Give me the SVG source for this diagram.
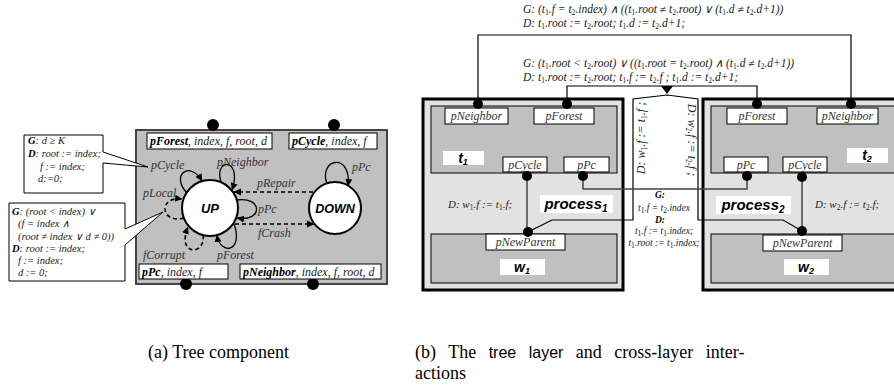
<svg xmlns="http://www.w3.org/2000/svg" width="894" height="387" viewBox="0 0 894 387">
<defs>
<style>
.ti{font-family:"Liberation Serif","Times New Roman",serif;font-style:italic;fill:#222}
.lbl{font-family:"Liberation Serif","Times New Roman",serif;font-style:italic;font-size:12px;fill:#333}
.bl{font-weight:bold;fill:#000}
.sb{font-size:7.5px;font-style:normal}
.box{fill:#fff;stroke:#000;stroke-width:1}
.wbox{fill:#fff;stroke:none}
.dot{fill:#000}
.ar{font-family:"Liberation Sans",Arial,sans-serif;font-weight:bold;font-style:italic;fill:#000}
.loop{fill:none;stroke:#000;stroke-width:1.3}
.dash{fill:none;stroke:#000;stroke-width:1.6;stroke-dasharray:4,3}
.gl{fill:none;stroke:#444;stroke-width:1.5}
.bk{fill:none;stroke:#000;stroke-width:1.2}
.proc{fill:#e2e2e2;stroke:#000;stroke-width:3}
.inner{fill:#c0c0c0;stroke:#000;stroke-width:1}
.cap{font-family:"Liberation Serif","Times New Roman",serif;font-size:18px;fill:#000}
</style>
<marker id="ah" markerWidth="8" markerHeight="8" refX="7" refY="4" orient="auto" markerUnits="userSpaceOnUse"><path d="M0,0.5 L7.5,4 L0,7.5 Z" fill="#000"/></marker>
</defs>

<!-- ===== Part (a) ===== -->
<g id="tree-component">
<rect x="136" y="130" width="251" height="154" fill="#c0c0c0" stroke="#444" stroke-width="2"/>
<circle class="dot" cx="213" cy="125" r="6"/>
<circle class="dot" cx="334" cy="125" r="6"/>
<circle class="dot" cx="186" cy="284" r="6"/>
<circle class="dot" cx="313" cy="284" r="6"/>
</g>
<g id="port-pForest">
<rect class="box" x="147" y="133" width="125" height="16"/>
<text class="ti" x="150" y="145" font-size="12"><tspan class="bl">pForest</tspan>, index, f, root, d</text>
</g>
<g id="port-pCycle">
<rect class="box" x="289" y="133" width="88" height="16"/>
<text class="ti" x="292" y="145" font-size="12"><tspan class="bl">pCycle</tspan>, index, f</text>
</g>
<g id="port-pPc">
<rect class="box" x="139" y="264" width="89" height="15"/>
<text class="ti" x="142" y="276" font-size="12"><tspan class="bl">pPc</tspan>, index, f</text>
</g>
<g id="port-pNeighbor">
<rect class="box" x="240" y="264" width="141" height="15"/>
<text class="ti" x="243" y="276" font-size="12"><tspan class="bl">pNeighbor</tspan>, index, f, root, d</text>
</g>
<g id="state-UP">
<circle cx="210" cy="208" r="28" fill="#fff" stroke="#000" stroke-width="2"/>
<text class="ar" x="210" y="213" font-size="13" text-anchor="middle">UP</text>
</g>
<g id="state-DOWN">
<circle cx="335" cy="208" r="26" fill="#fff" stroke="#000" stroke-width="2"/>
<text class="ar" x="335" y="213" font-size="12.5" text-anchor="middle">DOWN</text>
</g>
<g id="transitions-a">
<path class="loop" d="M187,193 C170,175 190,160 202,181" marker-end="url(#ah)"/>
<path class="loop" d="M221,182 C213,158 243,157 232,190" marker-end="url(#ah)"/>
<path class="loop" d="M237,200 C262,196 264,222 237,218" marker-end="url(#ah)"/>
<path class="loop" d="M234,224 C244,252 220,256 217,235" marker-end="url(#ah)"/>
<path class="dash" d="M203,235 C206,256 176,256 188,227" marker-end="url(#ah)"/>
<path class="dash" d="M184,218 C160,224 158,196 182,199" marker-end="url(#ah)"/>
<path class="loop" d="M327,184 C318,158 352,152 348,186" marker-end="url(#ah)"/>
<path class="dash" d="M313,192 L234,192" marker-end="url(#ah)"/>
<path class="dash" d="M235,224 L314,224" marker-end="url(#ah)"/>
</g>
<g id="labels-a">
<text class="lbl" x="151" y="169">pCycle</text>
<text class="lbl" x="217" y="166">pNeighbor</text>
<text class="lbl" x="352" y="171">pPc</text>
<text class="lbl" x="257" y="187">pRepair</text>
<text class="lbl" x="143" y="197">pLocal</text>
<text class="lbl" x="258" y="213">pPc</text>
<text class="lbl" x="258" y="237">fCrash</text>
<text class="lbl" x="143" y="259">fCorrupt</text>
<text class="lbl" x="217" y="259">pForest</text>
</g>
<g id="callout-pCycle">
<path d="M24,135 H103 V152 L148,167 L103,163 V193 H24 Z" fill="#fff" stroke="#000" stroke-width="1"/>
<text class="ti" font-size="10.5" x="28" y="144"><tspan class="bl">G</tspan>: d ≥ K</text>
<text class="ti" font-size="10.5" x="28" y="157"><tspan class="bl">D</tspan>: root := index;</text>
<text class="ti" font-size="10.5" x="40" y="170">f := index;</text>
<text class="ti" font-size="10.5" x="38" y="182">d:=0;</text>
</g>
<g id="callout-pLocal">
<path d="M9,203 H125 V229 L163,212 L125,245 V281 H9 Z" fill="#fff" stroke="#000" stroke-width="1"/>
<text class="ti" font-size="10.5" x="12" y="215"><tspan class="bl">G</tspan>: (root &lt; index) ∨</text>
<text class="ti" font-size="10.5" x="18" y="227">(f = index ∧</text>
<text class="ti" font-size="10.5" x="18" y="240">(root ≠ index ∨ d ≠ 0))</text>
<text class="ti" font-size="10.5" x="12" y="252"><tspan class="bl">D</tspan>: root := index;</text>
<text class="ti" font-size="10.5" x="18" y="264">f := index;</text>
<text class="ti" font-size="10.5" x="18" y="276">d := 0;</text>
</g>

<!-- ===== Part (b) ===== -->
<g id="process1">
<rect class="proc" x="423" y="99" width="200" height="191"/>
<rect class="inner" x="431" y="106" width="186" height="67"/>
<rect class="box" x="445" y="108" width="63" height="16"/>
<text class="lbl" x="476.5" y="120" font-size="11.5" text-anchor="middle">pNeighbor</text>
<rect class="box" x="534" y="108" width="60" height="16"/>
<text class="lbl" x="564" y="120" font-size="11.5" text-anchor="middle">pForest</text>
<rect class="wbox" x="443" y="151" width="41" height="14"/>
<text class="ar" x="463" y="163" font-size="14" text-anchor="middle">t<tspan font-size="9" dy="2">1</tspan></text>
<rect class="box" x="503" y="157" width="44" height="15"/>
<text class="lbl" x="525" y="168.5" font-size="11.5" text-anchor="middle">pCycle</text>
<rect class="box" x="564" y="157" width="45" height="15"/>
<text class="lbl" x="586.5" y="168.5" font-size="11.5" text-anchor="middle">pPc</text>
<text class="ti" x="448" y="208" font-size="11">D: w<tspan class="sb" dy="2">1</tspan><tspan dy="-2">.f := t</tspan><tspan class="sb" dy="2">1</tspan><tspan dy="-2">.f;</tspan></text>
<rect class="wbox" x="540" y="195" width="73" height="18"/>
<text class="ar" x="576" y="209" font-size="15" text-anchor="middle">process<tspan font-size="10" dy="3">1</tspan></text>
<rect class="inner" x="431" y="234" width="186" height="49"/>
<rect class="box" x="486" y="234" width="79" height="16"/>
<text class="lbl" x="525.5" y="246" font-size="11.5" text-anchor="middle">pNewParent</text>
<rect class="wbox" x="500" y="259" width="45" height="16"/>
<text class="ar" x="522" y="272" font-size="14" text-anchor="middle">w<tspan font-size="9" dy="2">1</tspan></text>
</g>
<g id="process2">
<rect class="proc" x="703" y="99" width="200" height="191"/>
<rect class="inner" x="711" y="106" width="186" height="67"/>
<rect class="box" x="727" y="108" width="60" height="16"/>
<text class="lbl" x="757" y="120" font-size="11.5" text-anchor="middle">pForest</text>
<rect class="box" x="817" y="108" width="61" height="16"/>
<text class="lbl" x="847.5" y="120" font-size="11.5" text-anchor="middle">pNeighbor</text>
<rect class="wbox" x="847" y="148" width="41" height="15"/>
<text class="ar" x="867" y="160" font-size="14" text-anchor="middle">t<tspan font-size="9" dy="2">2</tspan></text>
<rect class="box" x="724" y="157" width="44" height="15"/>
<text class="lbl" x="746" y="168.5" font-size="11.5" text-anchor="middle">pPc</text>
<rect class="box" x="783" y="157" width="44" height="15"/>
<text class="lbl" x="805" y="168.5" font-size="11.5" text-anchor="middle">pCycle</text>
<rect class="wbox" x="716" y="196" width="75" height="18"/>
<text class="ar" x="753" y="210" font-size="15" text-anchor="middle">process<tspan font-size="10" dy="3">2</tspan></text>
<text class="ti" x="815" y="208" font-size="11">D: w<tspan class="sb" dy="2">2</tspan><tspan dy="-2">.f := t</tspan><tspan class="sb" dy="2">2</tspan><tspan dy="-2">.f;</tspan></text>
<rect class="inner" x="711" y="234" width="186" height="49"/>
<rect class="box" x="763" y="235" width="79" height="16"/>
<text class="lbl" x="802.5" y="247" font-size="11.5" text-anchor="middle">pNewParent</text>
<rect class="wbox" x="784" y="259" width="45" height="16"/>
<text class="ar" x="806" y="272" font-size="14" text-anchor="middle">w<tspan font-size="9" dy="2">2</tspan></text>
</g>

<g id="connectors-b">
<path class="bk" d="M478,104 V35 H851 V104"/>
<path class="bk" d="M567,104 V86 H757 V104"/>
<polygon points="661,86 673,86 667,94" fill="#000"/>
<path class="bk" d="M528,232 L552,220 H633 V99 L667,95 L698,99 V220 H783 L802,231" stroke-width="1"/>
<path class="gl" d="M583,176 V189 H747 V176"/>
<path class="gl" d="M527,176 V232"/>
<path class="gl" d="M802,177 V231"/>
<circle class="dot" cx="478" cy="104" r="5"/>
<circle class="dot" cx="567" cy="104" r="5"/>
<circle class="dot" cx="527" cy="176" r="5"/>
<circle class="dot" cx="583" cy="176" r="5"/>
<circle class="dot" cx="528" cy="232" r="5"/>
<circle class="dot" cx="757" cy="104" r="5"/>
<circle class="dot" cx="851" cy="104" r="5"/>
<circle class="dot" cx="747" cy="176" r="5"/>
<circle class="dot" cx="802" cy="177" r="5"/>
<circle class="dot" cx="802" cy="231" r="5"/>
</g>

<g id="interaction-texts">
<text class="ti" x="523" y="13" font-size="11.5">G: (t<tspan class="sb" dy="2">1</tspan><tspan dy="-2">.f = t</tspan><tspan class="sb" dy="2">2</tspan><tspan dy="-2">.index) ∧ ((t</tspan><tspan class="sb" dy="2">1</tspan><tspan dy="-2">.root ≠ t</tspan><tspan class="sb" dy="2">2</tspan><tspan dy="-2">.root)  ∨  (t</tspan><tspan class="sb" dy="2">1</tspan><tspan dy="-2">.d ≠ t</tspan><tspan class="sb" dy="2">2</tspan><tspan dy="-2">.d+1))</tspan></text>
<text class="ti" x="523" y="27" font-size="11.5">D: t<tspan class="sb" dy="2">1</tspan><tspan dy="-2">.root := t</tspan><tspan class="sb" dy="2">2</tspan><tspan dy="-2">.root; t</tspan><tspan class="sb" dy="2">1</tspan><tspan dy="-2">.d := t</tspan><tspan class="sb" dy="2">2</tspan><tspan dy="-2">.d+1;</tspan></text>
<text class="ti" x="523" y="67" font-size="11.5">G: (t<tspan class="sb" dy="2">1</tspan><tspan dy="-2">.root &lt; t</tspan><tspan class="sb" dy="2">2</tspan><tspan dy="-2">.root) ∨ ((t</tspan><tspan class="sb" dy="2">1</tspan><tspan dy="-2">.root = t</tspan><tspan class="sb" dy="2">2</tspan><tspan dy="-2">.root) ∧ (t</tspan><tspan class="sb" dy="2">1</tspan><tspan dy="-2">.d ≠ t</tspan><tspan class="sb" dy="2">2</tspan><tspan dy="-2">.d+1))</tspan></text>
<text class="ti" x="523" y="81" font-size="11.5">D: t<tspan class="sb" dy="2">1</tspan><tspan dy="-2">.root := t</tspan><tspan class="sb" dy="2">2</tspan><tspan dy="-2">.root; t</tspan><tspan class="sb" dy="2">1</tspan><tspan dy="-2">.f := t</tspan><tspan class="sb" dy="2">2</tspan><tspan dy="-2">.f ;  t</tspan><tspan class="sb" dy="2">1</tspan><tspan dy="-2">.d := t</tspan><tspan class="sb" dy="2">2</tspan><tspan dy="-2">.d+1;</tspan></text>
<text class="ti" font-size="12" text-anchor="middle" transform="translate(645,138) rotate(-90)">D: w<tspan class="sb" dy="2">1</tspan><tspan dy="-2">.f := t</tspan><tspan class="sb" dy="2">1</tspan><tspan dy="-2">.f ;</tspan></text>
<text class="ti" font-size="12" text-anchor="middle" transform="translate(688,140) rotate(90)">D: w<tspan class="sb" dy="2">2</tspan><tspan dy="-2">.f := t</tspan><tspan class="sb" dy="2">2</tspan><tspan dy="-2">.f ;</tspan></text>
<text class="ti bl" x="660" y="198" font-size="9.5" text-anchor="middle">G:</text>
<text class="ti" x="664" y="211" font-size="9.5" text-anchor="middle">t<tspan class="sb" dy="1.5">1</tspan><tspan dy="-1.5">.f = t</tspan><tspan class="sb" dy="1.5">2</tspan><tspan dy="-1.5">.index</tspan></text>
<text class="ti bl" x="660" y="222.5" font-size="9.5" text-anchor="middle">D:</text>
<text class="ti" x="664" y="234" font-size="9.5" text-anchor="middle">t<tspan class="sb" dy="1.5">1</tspan><tspan dy="-1.5">.f := t</tspan><tspan class="sb" dy="1.5">1</tspan><tspan dy="-1.5">.index;</tspan></text>
<text class="ti" x="664" y="246" font-size="9.5" text-anchor="middle">t<tspan class="sb" dy="1.5">1</tspan><tspan dy="-1.5">.root := t</tspan><tspan class="sb" dy="1.5">1</tspan><tspan dy="-1.5">.index;</tspan></text>
</g>

<g id="captions">
<text class="cap" x="148" y="358">(a) Tree component</text>
<text class="cap" x="415" y="358" word-spacing="8">(b) The <tspan font-family="'Liberation Sans',Arial,sans-serif" font-size="16">tree layer</tspan> and cross-layer inter-</text>
<text class="cap" x="415" y="379">actions</text>
</g>
</svg>
